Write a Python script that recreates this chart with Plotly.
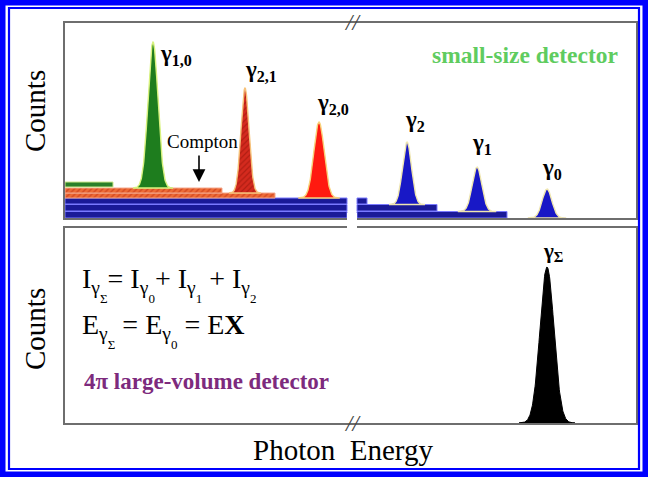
import numpy as np
import plotly.graph_objects as go

W, H = 648, 477
SERIF = "Liberation Serif, Times New Roman, serif"

# ---------------- data (arbitrary energy units / arbitrary counts) ----------------
# small-size detector: photo-peaks
peak_labels = ["γ<sub>1,0</sub>", "γ<sub>2,1</sub>", "γ<sub>2,0</sub>",
               "γ<sub>2</sub>", "γ<sub>1</sub>", "γ<sub>0</sub>"]
peak_centers = [88, 180, 254, 342, 412, 482]
peak_apex = [176, 130, 96, 76, 51, 29]
peak_sigma = [5.0, 4.0, 5.2, 4.5, 4.8, 4.8]
peak_fill = ["#1e7d1e", "#d42a1e", "#ff1a10", "#1818c6", "#1818c6", "#1818c6"]
peak_glow = ["#d8f27e", "#f6c27a", "#f8d27a", "#efe6b0", "#efe6b0", "#efe6b0"]
peak_hatched = [False, True, False, False, False, False]
label_x = [93, 178, 250, 338, 405, 475]
label_y = [163, 147, 114, 97, 74, 49]

# Compton continua (strips): energy start/end, counts bottom/top
strip_x0 = [0, 292, 0, 292, 0, 292, 0, 0, 0]
strip_x1 = [282, 442, 282, 372, 282, 302, 210, 157, 48]
strip_y0 = [0, 0, 7, 7, 14, 14, 20, 25, 31]
strip_y1 = [6.5, 6.5, 13.5, 13.5, 20, 20, 25, 30, 36]
strip_kind = ["blue", "blue", "blue", "blue", "blue", "blue", "orange", "orange", "green"]

# 4pi large-volume detector: sum peak
sum_center = 482
sum_apex = 156
sum_sigma = 7.0
sum_label_x, sum_label_y = 476, 171

# axis break (energy units)
break_x0, break_x1 = 282, 292
x_range = [0, 571]
y_range = [0, 195]

# ---------------- figure ----------------
fig = go.Figure()

kind_style = {
    "blue": dict(color="#1a1a98", line="#7a7aff", pattern=None),
    "orange": dict(color="#ec6a34", line="#f5a88c",
                   pattern=dict(shape="/", fgcolor="#b8240e", bgcolor="#ee6c36", size=4, solidity=0.35)),
    "green": dict(color="#2a802a", line="#cfe98a", pattern=None),
}
for x0, x1, y0, y1, k in zip(strip_x0, strip_x1, strip_y0, strip_y1, strip_kind):
    st = kind_style[k]
    marker = dict(color=st["color"], line=dict(color=st["line"], width=1))
    if st["pattern"]:
        marker["pattern"] = st["pattern"]
    fig.add_trace(go.Bar(orientation="h", y=[(y0 + y1) / 2], x=[x1 - x0], base=[x0],
                         width=[y1 - y0], marker=marker, xaxis="x", yaxis="y",
                         hoverinfo="skip"))


def baseline_at(xc):
    tops = [y1 for x0, x1, y1 in zip(strip_x0, strip_x1, strip_y1) if x0 <= xc <= x1]
    return max(tops) if tops else 0


def peak_poly(c, apex, s, base):
    xs = np.linspace(c - 4 * s, c + 4 * s, 161)
    ys = base + (apex - base) * np.exp(-0.5 * ((xs - c) / s) ** 2)
    return np.concatenate([xs, [xs[-1], xs[0]]]), np.concatenate([ys, [base, base]])


for c, a, s, fc, gc, hat in zip(peak_centers, peak_apex, peak_sigma, peak_fill, peak_glow, peak_hatched):
    px, py = peak_poly(c, a, s, baseline_at(c))
    kw = {}
    if hat:
        kw["fillpattern"] = dict(shape="/", fgcolor="#8e1208", bgcolor=fc, size=4, solidity=0.3)
    fig.add_trace(go.Scatter(x=px, y=py, mode="lines", fill="toself", fillcolor=fc,
                             line=dict(color=gc, width=1.4), xaxis="x", yaxis="y",
                             hoverinfo="skip", **kw))

px, py = peak_poly(sum_center, sum_apex, sum_sigma, 0)
fig.add_trace(go.Scatter(x=px, y=py, mode="lines", fill="toself", fillcolor="black",
                         line=dict(color="black", width=1), xaxis="x2", yaxis="y2",
                         hoverinfo="skip"))

# ---------------- axes ----------------
xdom = [65 / W, 636 / W]
ax_common = dict(showticklabels=False, ticks="", showgrid=False, zeroline=False,
                 showline=True, linecolor="#6e6e6e", linewidth=1.5, mirror=True,
                 layer="below traces", fixedrange=True)
fig.update_layout(
    width=W, height=H, margin=dict(l=0, r=0, t=0, b=0),
    paper_bgcolor="white", plot_bgcolor="white", showlegend=False, barmode="overlay",
    xaxis=dict(domain=xdom, range=x_range, anchor="y", **ax_common),
    yaxis=dict(domain=[1 - 218 / H, 1 - 23 / H], range=y_range, anchor="x", **ax_common),
    xaxis2=dict(domain=xdom, range=x_range, anchor="y2", **ax_common),
    yaxis2=dict(domain=[1 - 423 / H, 1 - 228 / H], range=y_range, anchor="x2", **ax_common),
)

shapes = [
    # axis break gap between the panels
    dict(type="rect", xref="x", yref="paper", x0=break_x0, x1=break_x1,
         y0=1 - 233 / H, y1=1 - 213 / H, fillcolor="white", line=dict(width=0), layer="above"),
    # blue frame
    dict(type="rect", xref="paper", yref="paper", x0=0, x1=1, y0=0, y1=1,
         line=dict(color="#0000ff", width=11), layer="above"),
    dict(type="rect", xref="paper", yref="paper", x0=9 / W, x1=639 / W, y0=8 / H, y1=1 - 8 / H,
         line=dict(color="#0000ff", width=2.2), layer="above"),
]
fig.update_layout(shapes=shapes)

ann = []
for lab, lx, ly in zip(peak_labels, label_x, label_y):
    ann.append(dict(text="<b>" + lab + "</b>", x=lx, y=ly, xref="x", yref="y",
                    xanchor="left", yanchor="middle", showarrow=False,
                    font=dict(family=SERIF, size=23, color="black")))
ann.append(dict(text="<b>γ<sub>Σ</sub></b>", x=sum_label_x, y=sum_label_y, xref="x2", yref="y2",
                xanchor="left", yanchor="middle", showarrow=False,
                font=dict(family=SERIF, size=21, color="black")))
# Compton label + arrow
ann.append(dict(text="Compton", x=100, y=76, xref="x", yref="y", xanchor="left",
                yanchor="middle", showarrow=False, font=dict(family=SERIF, size=19, color="black")))
ann.append(dict(text="", x=134, y=36, xref="x", yref="y", showarrow=True, ax=0, ay=-28,
                arrowhead=2, arrowsize=1.6, arrowwidth=1.6, arrowcolor="black"))
# break marks
for yy in [1 - 23 / H, 1 - 423 / H]:
    ann.append(dict(text="<i>//</i>", x=(break_x0 + break_x1) / 2, y=yy, xref="x", yref="paper",
                    xanchor="center", yanchor="middle", showarrow=False,
                    font=dict(family=SERIF, size=23, color="#444444")))
# detector names
ann.append(dict(text="<b>small-size detector</b>", x=525 / W, y=1 - 55 / H, xref="paper", yref="paper",
                xanchor="center", yanchor="middle", showarrow=False,
                font=dict(family=SERIF, size=23.5, color="#5fcc5f")))
ann.append(dict(text="<b>4π large-volume detector</b>", x=82 / W, y=1 - 381 / H, xref="paper", yref="paper",
                xanchor="left", yanchor="middle", showarrow=False,
                font=dict(family=SERIF, size=23, color="#7d2a7d")))
# formulas (double subscripts)
SUBSUB = '<span style="font-size:13px;baseline-shift:-9px">{}</span>'


def isub(letter, s):
    return letter + "<sub>γ" + SUBSUB.format(s) + "</sub>"


ann.append(dict(text=isub("I", "Σ") + "= " + isub("I", "0") + "+ " + isub("I", "1") + " + " + isub("I", "2"),
                x=80 / W, y=1 - 284 / H, xref="paper", yref="paper", xanchor="left", yanchor="middle",
                showarrow=False, font=dict(family=SERIF, size=28, color="black")))
ann.append(dict(text=isub("E", "Σ") + " = " + isub("E", "0") + " = E<b>X</b>",
                x=80 / W, y=1 - 330 / H, xref="paper", yref="paper", xanchor="left", yanchor="middle",
                showarrow=False, font=dict(family=SERIF, size=28, color="black")))
# axis titles
for yy in [1 - 111 / H, 1 - 329 / H]:
    ann.append(dict(text="Counts", x=35 / W, y=yy, xref="paper", yref="paper", textangle=-90,
                    xanchor="center", yanchor="middle", showarrow=False,
                    font=dict(family=SERIF, size=29, color="black")))
ann.append(dict(text="Photon  Energy", x=343 / W, y=1 - 450 / H, xref="paper", yref="paper",
                xanchor="center", yanchor="middle", showarrow=False,
                font=dict(family=SERIF, size=29, color="black")))
fig.update_layout(annotations=ann)

fig.write_html("out.html", config={"displayModeBar": False},
               post_script="document.body.style.margin='0px';document.body.style.overflow='hidden';")
